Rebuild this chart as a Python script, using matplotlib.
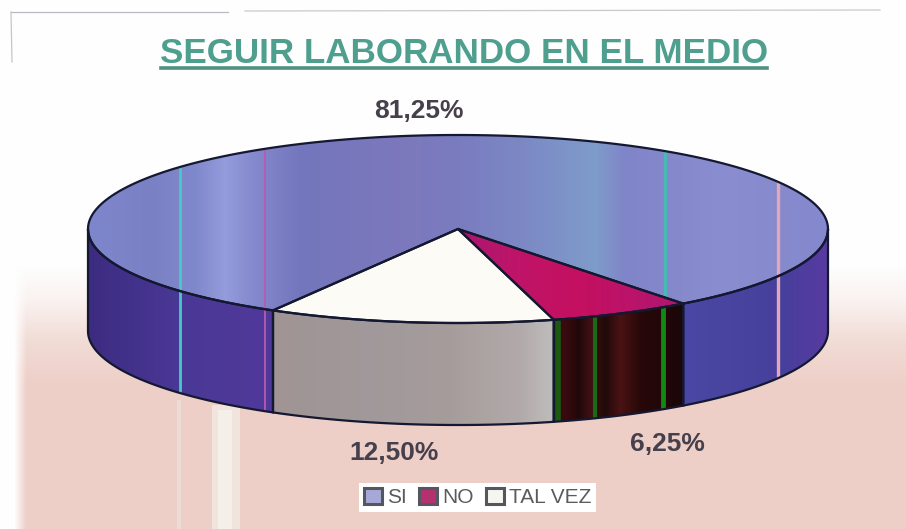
import numpy as np
import matplotlib.pyplot as plt
from matplotlib.colors import to_rgb
from matplotlib.patches import Patch, Polygon

plt.rcParams['font.family'] = ['Liberation Sans', 'DejaVu Sans']

title = 'SEGUIR LABORANDO EN EL MEDIO'
categories = ['SI', 'NO', 'TAL VEZ']
values = [81.25, 6.25, 12.50]
labels = ['81,25%', '6,25%', '12,50%']

top_colors = {'SI': '#7d82c6', 'NO': '#b8146a', 'TAL VEZ': '#fdfbf5'}
side_colors = {'SI': '#4c3a96', 'NO': '#2a0a12', 'TAL VEZ': '#a39a9b'}
legend_colors = {'SI': '#a6a9d8', 'NO': '#b5306f', 'TAL VEZ': '#f7f5ef'}
label_pos = {'SI': (419, 118), 'NO': (667, 451), 'TAL VEZ': (394, 460)}

# pie geometry in picture pixels
cx, cy = 458, 229
rx, ry = 370, 94
depth = 102
start = 52.5  # where NO starts, going clockwise on screen


def arc(t0, t1, dy=0):
    t = np.radians(np.linspace(t0, t1, 200))
    return np.column_stack((cx + rx * np.cos(t), cy + dy + ry * np.sin(t)))


def wall(ax, t0, t1, color, clip_list):
    # only the front half of the rim can be seen
    t0, t1 = max(t0, 0), min(t1, 180)
    if t1 <= t0:
        return
    pts = np.vstack((arc(t0, t1), arc(t0, t1, depth)[::-1]))
    p = Polygon(pts, closed=True, fc=color, ec='none', zorder=2)
    ax.add_patch(p)
    clip_list.append(p)


def shade(ax, xs, colors, clip, zorder):
    # soft left-to-right colour change, cut to the shape of one piece
    rgb = np.array([to_rgb(c) for c in colors])
    grid = np.arange(906)
    img = np.stack([np.interp(grid, xs, rgb[:, i]) for i in range(3)], axis=-1)[None, :, :]
    im = ax.imshow(img, extent=(0, 906, 529, 0), aspect='auto', zorder=zorder)
    im.set_clip_path(clip)


def main():
    fig = plt.figure(figsize=(9.06, 5.29), dpi=100)
    ax = fig.add_axes([0, 0, 1, 1])
    ax.axis('off')

    # paper background, white fading into pink
    rows = np.interp(np.arange(529), [0, 265, 300, 340, 385, 529], [0, 0, 0.25, 0.72, 1, 1])
    white = np.array([254, 254, 254]) / 255
    pink = np.array([237, 207, 199]) / 255
    bg = white[None, None, :] + rows[:, None, None] * (pink - white)[None, None, :]
    bg = np.repeat(bg, 906, axis=1)
    fade = np.clip((np.arange(906) - 14) / 12, 0, 1)[None, :, None]
    bg = white[None, None, :] + (bg - white[None, None, :]) * fade
    ax.imshow(bg, extent=(0, 906, 529, 0), aspect='auto', zorder=0)
    ax.set_xlim(0, 906)
    ax.set_ylim(529, 0)

    # scan marks on the paper
    ax.plot([11, 228], [12, 12], color='#b8bcc0', lw=0.9, zorder=1)
    ax.plot([245, 880], [11, 10], color='#c8cacc', lw=0.9, zorder=1)
    ax.plot([11, 12], [12, 62], color='#c4c6cc', lw=0.9, zorder=1)
    ax.fill_between([212, 240], 405, 529, color='#f0e4dc', lw=0, zorder=1)
    ax.fill_between([218, 232], 410, 529, color='#f4efe9', lw=0, zorder=1)
    ax.fill_between([177, 181], 400, 529, color='#eadcd2', lw=0, zorder=1)

    # cumulative angles from the values, screen order NO, TAL VEZ, SI
    order = ['NO', 'TAL VEZ', 'SI']
    val = dict(zip(categories, values))
    t0 = start
    spans = {}
    for name in order:
        spans[name] = (t0, t0 + val[name] * 3.6)
        t0 += val[name] * 3.6

    walls = {}
    for name in order:
        a, b = spans[name]
        found = []
        wall(ax, a, b, side_colors[name], found)
        if b > 360:
            wall(ax, a - 360, b - 360, side_colors[name], found)
        walls[name] = found

    tops = {}
    for name in order:
        a, b = spans[name]
        pts = np.vstack(([[cx, cy]], arc(a, b)))
        p = Polygon(pts, closed=True, fc=top_colors[name], ec='none', zorder=3)
        ax.add_patch(p)
        tops[name] = p

    # colour drift across the pie
    shade(ax, [88, 150, 195, 225, 250, 300, 400, 460, 520, 595, 625, 720, 827],
          ['#7f87cc', '#7a80c4', '#8088cc', '#949cdc', '#868ace', '#7376bc', '#7d78bc', '#7a7cc0',
           '#7c88c4', '#7e9cca', '#8084c8', '#8a8ed0', '#8488cc'], tops['SI'], 3.5)
    for w in walls['SI']:
        shade(ax, [88, 180, 270, 682, 780, 827],
              ['#3c2c80', '#4a3896', '#50389a', '#4a48a4', '#46409c', '#583aa0'], w, 2.5)
    shade(ax, [273, 360, 450, 520, 552],
          ['#a09494', '#a0989a', '#a69c9c', '#b2aaaa', '#c0bcbc'], walls['TAL VEZ'][0], 2.5)
    shade(ax, [552, 565, 578, 590, 605, 620, 640, 682],
          ['#2a1208', '#3a0a10', '#200808', '#401014', '#200a0a', '#4a1214', '#280808', '#1c0608'],
          walls['NO'][0], 2.5)
    shade(ax, [458, 520, 580, 640, 682],
          ['#a81870', '#c01468', '#c41060', '#b8146c', '#b0186c'], tops['NO'], 3.5)

    # sharp coloured scan lines over the pie
    lines = [(180, '#48c8c8', 2.0), (265, '#b85ab0', 1.3), (665, '#40c0b0', 2.0), (778, '#e0a8b8', 2.4)]
    dark_lines = [(558, '#1c5a10', 4), (595, '#1c6a14', 3), (663, '#108a10', 3.5)]
    for x, c, lw in lines:
        for clip in [tops['SI']] + walls['SI']:
            ln, = ax.plot([x, x], [130, 430], color=c, lw=lw, zorder=4)
            ln.set_clip_path(clip)
    for x, c, lw in dark_lines:
        ln, = ax.plot([x, x], [300, 430], color=c, lw=lw, zorder=4)
        ln.set_clip_path(walls['NO'][0])

    for group in walls.values():
        for w in group:
            ax.add_patch(Polygon(w.get_xy(), closed=True, fc='none', ec='#141830', lw=1.6, zorder=5))
    for p in tops.values():
        ax.add_patch(Polygon(p.get_xy(), closed=True, fc='none', ec='#141830', lw=1.6, zorder=6))

    ax.text(464, 63, title, color='#4f9f8e', fontsize=25.2, fontweight='bold',
            ha='center', va='baseline', zorder=8)
    ax.plot([161, 767], [68, 68], color='#4f9080', lw=2.6, zorder=8)

    for name, text in zip(categories, labels):
        x, y = label_pos[name]
        ax.text(x, y, text, color='#46404c', fontsize=19, fontweight='bold',
                ha='center', va='baseline', zorder=8)

    handles = [Patch(fc=legend_colors[n], ec='#55565e', lw=2.2) for n in categories]
    leg = ax.legend(handles, categories, loc='center', bbox_to_anchor=(477.5, 497.5),
                    bbox_transform=ax.transData, ncol=3, frameon=True, fancybox=False,
                    framealpha=1, facecolor='white', edgecolor='none', fontsize=15,
                    labelcolor='#5a5c5c', handlelength=0.85, handleheight=0.85,
                    handletextpad=0.25, columnspacing=0.6, borderpad=0.22, borderaxespad=0)
    leg.set_zorder(8)

    fig.savefig('out.png', dpi=100)


if __name__ == '__main__':
    main()
